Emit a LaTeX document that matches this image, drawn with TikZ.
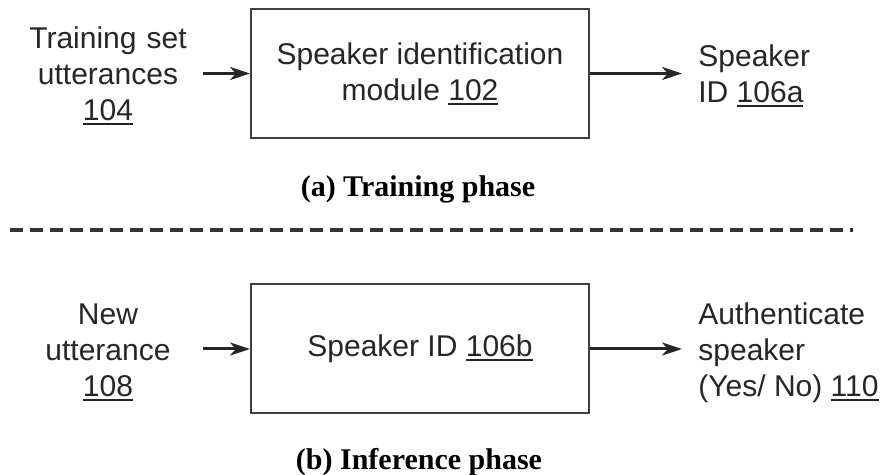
\documentclass[tikz,border=0pt]{standalone}
\usepackage{fontspec}
\setmainfont{Liberation Sans}
\newfontfamily\capfont{Liberation Serif}
\usetikzlibrary{arrows.meta}
\newcommand\myul[1]{\leavevmode\setbox0\hbox{#1}\rlap{\rule[-2.3pt]{\wd0}{1pt}}\box0}
\tikzset{
  lbl/.style={font=\fontsize{15pt}{18pt}\selectfont, inner sep=0pt, text=black!85},
  inbox/.style={lbl, text width=95pt, align=center},
  outbox/.style={lbl, anchor=west, align=left, inner xsep=8pt},
  blk/.style={draw=black!75, line width=1pt, minimum width=169pt, minimum height=64.5pt,
    font=\fontsize{15pt}{18pt}\selectfont, align=center, text=black!85},
  arr/.style={line width=1.5pt, black!85, -{Stealth[length=10pt,width=6.5pt,inset=3pt]}},
  phasecap/.style={font=\capfont\bfseries\fontsize{15pt}{18pt}\selectfont, anchor=base, inner sep=0pt},
  dashline/.style={line width=1.6pt, black!80, dash pattern=on 6.5pt off 3.5pt}
}
\begin{document}
\begin{tikzpicture}[x=0.5pt,y=-0.5pt]
\useasboundingbox (0,0) rectangle (885,475);
% training phase
\node[inbox] (in1) at (108,76) {Training set\\utterances\\\myul{104}};
\node[blk] (box1) at (420,73.5) {Speaker identification\\module \myul{102}};
\node[outbox] (out1) at (682,76) {Speaker\\ID \myul{106a}};
\draw[arr] (in1.east |- box1) -- (box1.west);
\draw[arr] (box1.east) -- (out1.west |- box1);
\node[phasecap] (capa) at (418,197) {(a) Training phase};
% separator
\coordinate (dl) at (10,230);
\coordinate (dr) at (853,230);
\draw[dashline] (dl) -- (dr);
% inference phase
\node[inbox] (in2) at (108,352) {New\\utterance\\\myul{108}};
\node[blk] (box2) at (420,349) {Speaker ID \myul{106b}};
\node[outbox] (out2) at (682,353) {Authenticate\\speaker\\(Yes/ No) \myul{110}};
\draw[arr] (in2.east |- box2) -- (box2.west);
\draw[arr] (box2.east) -- (out2.west |- box2);
\node[phasecap] (capb) at (419,470) {(b) Inference phase};
\end{tikzpicture}
\end{document}
